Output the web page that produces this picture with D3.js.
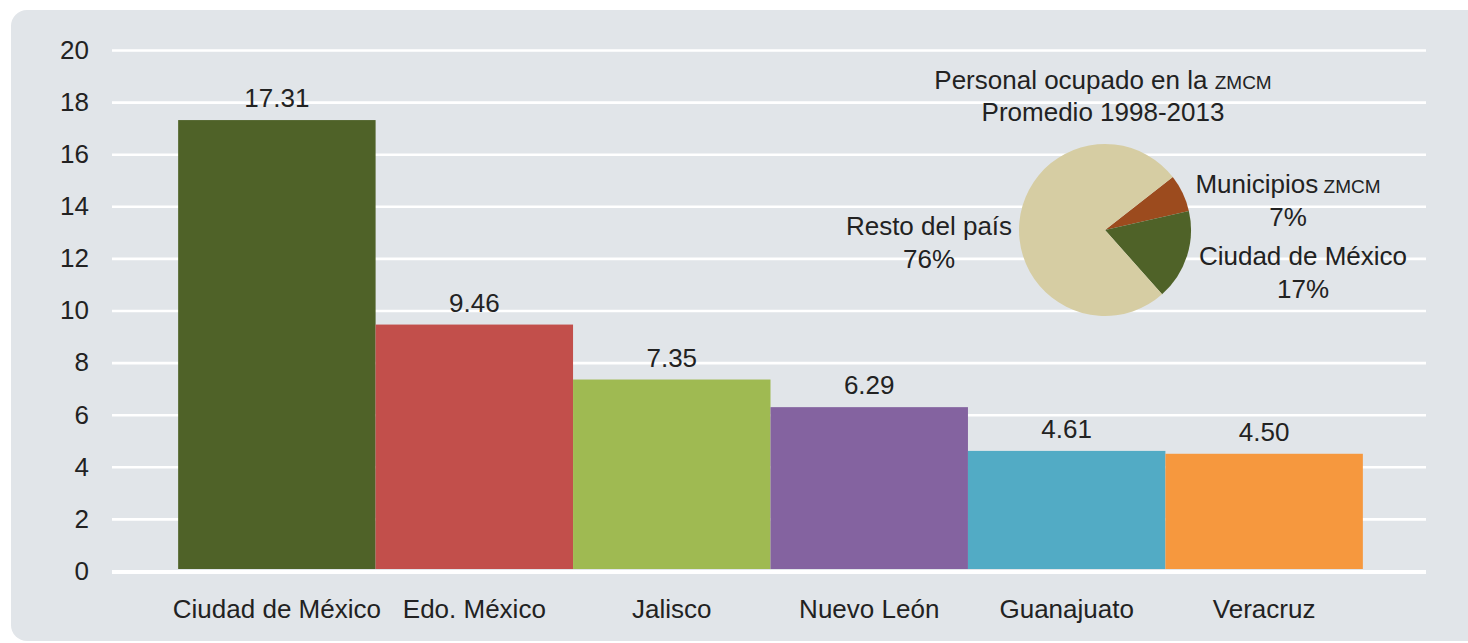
<!DOCTYPE html>
<html>
<head>
<meta charset="utf-8">
<script src="https://cdn.jsdelivr.net/npm/d3@7"></script>
<style>
  html, body { margin: 0; padding: 0; background: #fff; }
  svg text { font-family: "Liberation Sans", Arial, Helvetica, sans-serif; fill: #222; }
</style>
</head>
<body>
<div class="chart"></div>
<script>
// bar data
var categories = ["Ciudad de México", "Edo. México", "Jalisco", "Nuevo León", "Guanajuato", "Veracruz"];
var values = [17.31, 9.46, 7.35, 6.29, 4.61, 4.50];
var barColors = ["#4f6228", "#c24f4b", "#9fba52", "#8463a0", "#52abc5", "#f6983e"];
var yTicks = [0, 2, 4, 6, 8, 10, 12, 14, 16, 18, 20];

// inset pie data
var pieNames = ["Municipios", "Ciudad de México", "Resto del país"];
var pieValues = [7, 17, 76];
var pieColors = ["#9c4b1e", "#4f6228", "#d6cda3"];

var width = 1468, height = 643;
var fs = 26;

var svg = d3.select(".chart").append("svg")
    .attr("width", width)
    .attr("height", height);

// panel
svg.append("rect")
    .attr("x", 11).attr("y", 10)
    .attr("width", 1500).attr("height", 631)
    .attr("rx", 16)
    .attr("fill", "#e1e5e9");

var x = d3.scaleBand()
    .domain(categories)
    .range([112, 1429])
    .paddingInner(0)
    .paddingOuter(0.335);

var y = d3.scaleLinear()
    .domain([0, 20])
    .range([571, 50]);

// y axis + gridlines
var yAxis = d3.axisLeft(y)
    .tickValues(yTicks)
    .tickSize(-(1426 - 112))
    .tickPadding(23);

var gy = svg.append("g")
    .attr("transform", "translate(112,0)")
    .call(yAxis);
gy.select(".domain").remove();
gy.selectAll(".tick line").attr("stroke", "#fff").attr("stroke-width", 2.6);
gy.selectAll(".tick text")
    .attr("font-size", fs)
    .attr("fill", "#222")
    .style("font-family", "'Liberation Sans', Arial, sans-serif");

// bars
svg.selectAll("rect.bar")
    .data(values)
    .enter()
    .append("rect")
    .attr("class", "bar")
    .attr("x", function(d, i) { return x(categories[i]); })
    .attr("width", x.bandwidth())
    .attr("y", function(d) { return y(d); })
    .attr("height", function(d) { return y(0) - y(d) - 2; })
    .attr("fill", function(d, i) { return barColors[i]; });

// zero line on top
svg.append("line")
    .attr("x1", 112).attr("x2", 1426)
    .attr("y1", y(0) + 1).attr("y2", y(0) + 1)
    .attr("stroke", "#fff")
    .attr("stroke-width", 4);

// value labels
svg.selectAll("text.val")
    .data(values)
    .enter()
    .append("text")
    .attr("class", "val")
    .attr("x", function(d, i) { return x(categories[i]) + x.bandwidth() / 2; })
    .attr("y", function(d) { return y(d) - 13; })
    .attr("text-anchor", "middle")
    .attr("font-size", fs)
    .text(function(d) { return d3.format(".2f")(d); });

// x axis labels
var xAxis = d3.axisBottom(x).tickSize(0).tickPadding(29);
var gx = svg.append("g")
    .attr("transform", "translate(0," + y(0) + ")")
    .call(xAxis);
gx.select(".domain").remove();
gx.selectAll(".tick text")
    .attr("font-size", fs)
    .attr("fill", "#222")
    .style("font-family", "'Liberation Sans', Arial, sans-serif");

// inset pie
var cx = 1105, cy = 230, r = 86;

var pie = d3.pie()
    .sort(null)
    .startAngle(52 * Math.PI / 180)
    .endAngle(52 * Math.PI / 180 + 2 * Math.PI);

var arc = d3.arc().innerRadius(0).outerRadius(r);

var pg = svg.append("g").attr("transform", "translate(" + cx + "," + cy + ")");
pg.selectAll("path")
    .data(pie(pieValues))
    .enter()
    .append("path")
    .attr("d", arc)
    .attr("fill", function(d, i) { return pieColors[i]; });

// pie title
var title = pg.append("text").attr("text-anchor", "middle").attr("font-size", fs);
title.append("tspan").attr("x", -2).attr("y", -141).text("Personal ocupado en la ");
title.append("tspan").attr("font-size", 19).text("ZMCM");
pg.append("text").attr("text-anchor", "middle").attr("font-size", fs)
    .attr("x", -2).attr("y", -109).text("Promedio 1998-2013");

// pie labels
var labelPos = [[183, -37], [198, 35], [-176, 5]];
pieNames.forEach(function(name, i) {
  var t = pg.append("text").attr("text-anchor", "middle").attr("font-size", fs);
  t.append("tspan").attr("x", labelPos[i][0]).attr("y", labelPos[i][1]).text(name);
  if (i === 0) t.append("tspan").attr("font-size", 19).text(" ZMCM");
  pg.append("text").attr("text-anchor", "middle").attr("font-size", fs)
    .attr("x", labelPos[i][0]).attr("y", labelPos[i][1] + 33)
    .text(pieValues[i] + "%");
});
</script>
</body>
</html>
